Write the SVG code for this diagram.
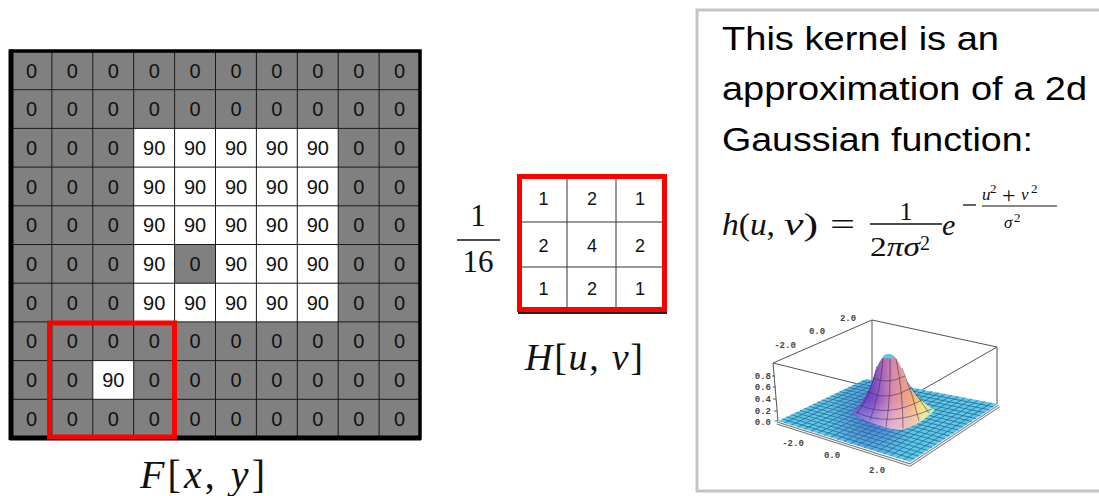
<svg xmlns="http://www.w3.org/2000/svg" width="1099" height="496" viewBox="0 0 1099 496">
<style>
.num{font-family:"Liberation Sans",Arial,sans-serif;font-size:20px;fill:#111;text-anchor:middle}
.knum{font-family:"Liberation Sans",Arial,sans-serif;font-size:18px;fill:#111;text-anchor:middle}
.gl{stroke:#1a1a1a;stroke-width:1;fill:none}
.serif{font-family:"Liberation Serif","Times New Roman",serif;fill:#111}
.it{font-style:italic}
.big{font-family:"Liberation Sans",Arial,sans-serif;font-size:34px;fill:#000}
.ax{font-family:"Liberation Mono","Courier New",monospace;font-size:9px;fill:#444;font-weight:bold}
.edge{stroke:#555;stroke-width:1;fill:none}
</style>
<defs>
<linearGradient id="peakG" x1="852" y1="0" x2="935" y2="0" gradientUnits="userSpaceOnUse">
<stop offset="0" stop-color="#3a38c8"/>
<stop offset="0.25" stop-color="#7440c4"/>
<stop offset="0.5" stop-color="#d888a8"/>
<stop offset="0.72" stop-color="#f0a870"/>
<stop offset="0.85" stop-color="#f2e070"/>
<stop offset="1" stop-color="#a8f0b8"/>
</linearGradient>
<linearGradient id="peakV" x1="0" y1="354" x2="0" y2="430" gradientUnits="userSpaceOnUse">
<stop offset="0" stop-color="#fff" stop-opacity="0"/>
<stop offset="0.6" stop-color="#fff" stop-opacity="0.05"/>
<stop offset="1" stop-color="#e8e0ff" stop-opacity="0.55"/>
</linearGradient>
<radialGradient id="shade" cx="872" cy="418" r="45" gradientUnits="userSpaceOnUse">
<stop offset="0" stop-color="#4040d0" stop-opacity="0.6"/>
<stop offset="1" stop-color="#4040d0" stop-opacity="0"/>
</radialGradient>
</defs>
<rect width="1099" height="496" fill="#fff"/>

<g id="image-grid">
<rect x="11" y="51" width="409" height="387" fill="#808080"/>
<rect x="133.7" y="128.4" width="204.5" height="193.5" fill="#fff"/>
<rect x="174.6" y="244.5" width="40.9" height="38.7" fill="#808080"/>
<rect x="92.8" y="360.6" width="40.9" height="38.7" fill="#fff"/>
<path class="gl" d="M51.9 51V438M92.8 51V438M133.7 51V438M174.6 51V438M215.5 51V438M256.4 51V438M297.3 51V438M338.2 51V438M379.1 51V438M11 89.7H420M11 128.4H420M11 167.1H420M11 205.8H420M11 244.5H420M11 283.2H420M11 321.9H420M11 360.6H420M11 399.3H420"/>
<rect x="11" y="51" width="409" height="387" fill="none" stroke="#000" stroke-width="3.5"/>
<path d="M11 49.5V440M9.5 438H421" stroke="#000" stroke-width="5" fill="none"/>
<g class="num">
<text x="31.5" y="77.5">0</text><text x="72.4" y="77.5">0</text><text x="113.3" y="77.5">0</text><text x="154.2" y="77.5">0</text><text x="195.1" y="77.5">0</text><text x="236" y="77.5">0</text><text x="276.9" y="77.5">0</text><text x="317.8" y="77.5">0</text><text x="358.7" y="77.5">0</text><text x="399.6" y="77.5">0</text>
<text x="31.5" y="116.2">0</text><text x="72.4" y="116.2">0</text><text x="113.3" y="116.2">0</text><text x="154.2" y="116.2">0</text><text x="195.1" y="116.2">0</text><text x="236" y="116.2">0</text><text x="276.9" y="116.2">0</text><text x="317.8" y="116.2">0</text><text x="358.7" y="116.2">0</text><text x="399.6" y="116.2">0</text>
<text x="31.5" y="154.9">0</text><text x="72.4" y="154.9">0</text><text x="113.3" y="154.9">0</text><text x="154.2" y="154.9">90</text><text x="195.1" y="154.9">90</text><text x="236" y="154.9">90</text><text x="276.9" y="154.9">90</text><text x="317.8" y="154.9">90</text><text x="358.7" y="154.9">0</text><text x="399.6" y="154.9">0</text>
<text x="31.5" y="193.6">0</text><text x="72.4" y="193.6">0</text><text x="113.3" y="193.6">0</text><text x="154.2" y="193.6">90</text><text x="195.1" y="193.6">90</text><text x="236" y="193.6">90</text><text x="276.9" y="193.6">90</text><text x="317.8" y="193.6">90</text><text x="358.7" y="193.6">0</text><text x="399.6" y="193.6">0</text>
<text x="31.5" y="232.3">0</text><text x="72.4" y="232.3">0</text><text x="113.3" y="232.3">0</text><text x="154.2" y="232.3">90</text><text x="195.1" y="232.3">90</text><text x="236" y="232.3">90</text><text x="276.9" y="232.3">90</text><text x="317.8" y="232.3">90</text><text x="358.7" y="232.3">0</text><text x="399.6" y="232.3">0</text>
<text x="31.5" y="271">0</text><text x="72.4" y="271">0</text><text x="113.3" y="271">0</text><text x="154.2" y="271">90</text><text x="195.1" y="271">0</text><text x="236" y="271">90</text><text x="276.9" y="271">90</text><text x="317.8" y="271">90</text><text x="358.7" y="271">0</text><text x="399.6" y="271">0</text>
<text x="31.5" y="309.7">0</text><text x="72.4" y="309.7">0</text><text x="113.3" y="309.7">0</text><text x="154.2" y="309.7">90</text><text x="195.1" y="309.7">90</text><text x="236" y="309.7">90</text><text x="276.9" y="309.7">90</text><text x="317.8" y="309.7">90</text><text x="358.7" y="309.7">0</text><text x="399.6" y="309.7">0</text>
<text x="31.5" y="348.4">0</text><text x="72.4" y="348.4">0</text><text x="113.3" y="348.4">0</text><text x="154.2" y="348.4">0</text><text x="195.1" y="348.4">0</text><text x="236" y="348.4">0</text><text x="276.9" y="348.4">0</text><text x="317.8" y="348.4">0</text><text x="358.7" y="348.4">0</text><text x="399.6" y="348.4">0</text>
<text x="31.5" y="387.1">0</text><text x="72.4" y="387.1">0</text><text x="113.3" y="387.1">90</text><text x="154.2" y="387.1">0</text><text x="195.1" y="387.1">0</text><text x="236" y="387.1">0</text><text x="276.9" y="387.1">0</text><text x="317.8" y="387.1">0</text><text x="358.7" y="387.1">0</text><text x="399.6" y="387.1">0</text>
<text x="31.5" y="425.8">0</text><text x="72.4" y="425.8">0</text><text x="113.3" y="425.8">0</text><text x="154.2" y="425.8">0</text><text x="195.1" y="425.8">0</text><text x="236" y="425.8">0</text><text x="276.9" y="425.8">0</text><text x="317.8" y="425.8">0</text><text x="358.7" y="425.8">0</text><text x="399.6" y="425.8">0</text>
</g>
<rect x="49.5" y="323" width="125" height="114" fill="none" stroke="#ff0000" stroke-width="5"/>
<text class="serif" x="140" y="488" font-size="40" textLength="125" lengthAdjust="spacing"><tspan class="it">F</tspan>[<tspan class="it">x</tspan>, <tspan class="it">y</tspan>]</text>
</g>

<g id="kernel">
<text class="serif" x="478" y="226" font-size="31" text-anchor="middle">1</text>
<line x1="457" y1="240" x2="500" y2="240" stroke="#111" stroke-width="1.5"/>
<text class="serif" x="478" y="272" font-size="31" text-anchor="middle">16</text>
<rect x="519.5" y="176.5" width="145" height="133" fill="#fff"/>
<path d="M567 177V309M616 177V309M520 222H664M520 267H664" stroke="#333" stroke-width="1" fill="none"/>
<line x1="518" y1="313" x2="667" y2="313" stroke="#222" stroke-width="2"/>
<rect x="519.5" y="176.5" width="145" height="133" fill="none" stroke="#ff0000" stroke-width="5"/>
<g class="knum">
<text x="543.5" y="204.5">1</text><text x="592" y="204.5">2</text><text x="640" y="204.5">1</text>
<text x="543.5" y="251.5">2</text><text x="592" y="251.5">4</text><text x="640" y="251.5">2</text>
<text x="543.5" y="294.5">1</text><text x="592" y="294.5">2</text><text x="640" y="294.5">1</text>
</g>
<text class="serif" x="525" y="370" font-size="38" textLength="118" lengthAdjust="spacing"><tspan class="it">H</tspan>[<tspan class="it">u</tspan>, <tspan class="it">v</tspan>]</text>
</g>

<g id="gaussian-panel">
<rect x="697" y="10" width="430" height="481" fill="#fff" stroke="#c4c4c4" stroke-width="3"/>
<text class="big" x="722" y="50" textLength="277" lengthAdjust="spacingAndGlyphs">This kernel is an</text>
<text class="big" x="722" y="100" textLength="365" lengthAdjust="spacingAndGlyphs">approximation of a 2d</text>
<text class="big" x="722" y="151" textLength="311" lengthAdjust="spacingAndGlyphs">Gaussian function:</text>

<g id="formula">
<text class="serif" x="722" y="235" font-size="31" textLength="53" lengthAdjust="spacingAndGlyphs"><tspan class="it">h</tspan>(<tspan class="it">u</tspan>,</text>
<text class="serif" x="784" y="235" font-size="31" textLength="34" lengthAdjust="spacingAndGlyphs"><tspan class="it">v</tspan>)</text>
<text class="serif" x="830" y="235" font-size="31" textLength="25" lengthAdjust="spacingAndGlyphs">=</text>
<text class="serif" x="906" y="220" font-size="26" text-anchor="middle">1</text>
<line x1="870" y1="224" x2="942" y2="224" stroke="#111" stroke-width="1.3"/>
<text class="serif" x="870" y="256" font-size="27" textLength="50" lengthAdjust="spacingAndGlyphs">2<tspan class="it">πσ</tspan></text>
<text class="serif" x="920" y="250" font-size="20">2</text>
<text class="serif it" x="942" y="235" font-size="30">e</text>
<line x1="963" y1="205" x2="976" y2="205" stroke="#111" stroke-width="1.3"/>
<text class="serif it" x="982" y="200" font-size="17">u</text>
<text class="serif" x="990" y="193" font-size="13">2</text>
<text class="serif" x="1002" y="203" font-size="24">+</text>
<text class="serif it" x="1021" y="200" font-size="17">v</text>
<text class="serif" x="1031" y="193" font-size="13">2</text>
<line x1="982" y1="206" x2="1057" y2="206" stroke="#111" stroke-width="1.1"/>
<text class="serif it" x="1004" y="228" font-size="17">σ</text>
<text class="serif" x="1014" y="222" font-size="13">2</text>
</g>

<g id="plot">
<path class="edge" d="M773 363L872 320L997 347M872 320V382M773 363L778 421M997 347V404M773 363L858 384M997 347L922 390"/>
<path class="edge" d="M775 376h-3M776 387h-3M776 399h-3M777 411h-3M778 421h-3"/>
<path d="M778 421L866 379L998 404L910 462Z" fill="#5cc8ee"/>
<path d="M778 421L866 379L998 404L910 462Z" fill="url(#shade)"/>
<path stroke="#2c6a88" stroke-width="0.8" fill="none" d="M782.4 418.9L914.4 459.1M786.8 416.8L918.8 456.2M791.2 414.7L923.2 453.3M795.6 412.6L927.6 450.4M800 410.5L932 447.5M804.4 408.4L936.4 444.6M808.8 406.3L940.8 441.7M813.2 404.2L945.2 438.8M817.6 402.1L949.6 435.9M822 400L954 433M826.4 397.9L958.4 430.1M830.8 395.8L962.8 427.2M835.2 393.7L967.2 424.3M839.6 391.6L971.6 421.4M844 389.5L976 418.5M848.4 387.4L980.4 415.6M852.8 385.3L984.8 412.7M857.2 383.2L989.2 409.8M861.6 381.1L993.6 406.9M784.6 423L872.6 380.3M791.2 425.1L879.2 381.5M797.8 427.2L885.8 382.8M804.4 429.2L892.4 384M811 431.3L899 385.3M817.6 433.3L905.6 386.5M824.2 435.4L912.2 387.8M830.8 437.4L918.8 389M837.4 439.5L925.4 390.3M844 441.5L932 391.5M850.6 443.6L938.6 392.8M857.2 445.6L945.2 394M863.8 447.7L951.8 395.3M870.4 449.7L958.4 396.5M877 451.8L965 397.8M883.6 453.8L971.6 399M890.2 455.9L978.2 400.3M896.8 457.9L984.8 401.5M903.4 460L991.4 402.8"/>
<path d="M852 413C862 404 868 394 874 376C878 363 882 356 888 354C895 354 899 361 903 373C909 389 920 402 935 410C925 420 912 428 900 430C880 428 864 420 852 413Z" fill="url(#peakG)"/>
<path d="M852 413C862 404 868 394 874 376C878 363 882 356 888 354C895 354 899 361 903 373C909 389 920 402 935 410C925 420 912 428 900 430C880 428 864 420 852 413Z" fill="url(#peakV)"/>
<path stroke="#3a2a50" stroke-width="0.7" fill="none" opacity="0.8" d="M877 366Q870 398 857 413M883 358Q880 395 870 420M890 355Q891 395 886 427M896 359Q903 392 903 428M902 368Q913 394 919 421M908 383Q920 400 929 413M873 378Q888 385 905 376M868 392Q888 402 911 388M860 405Q888 418 922 400M856 412Q888 428 932 409"/>
<path d="M883 356Q888 352 894 356L891 359Q887 357 884 359Z" fill="#5cc8ee"/>
<path d="M777 423L910 465L999 406" fill="none" stroke="#777" stroke-width="3"/>
<path d="M777 423L910 465L999 406" fill="none" stroke="#f4f4f4" stroke-width="1.2"/>
<g class="ax">
<text x="785" y="348" text-anchor="middle">-2.0</text>
<text x="817" y="334" text-anchor="middle">0.0</text>
<text x="848" y="321" text-anchor="middle">2.0</text>
<text x="771" y="379" text-anchor="end">0.8</text>
<text x="771" y="390" text-anchor="end">0.6</text>
<text x="771" y="402" text-anchor="end">0.4</text>
<text x="771" y="414" text-anchor="end">0.2</text>
<text x="771" y="425" text-anchor="end">0.0</text>
<text x="793" y="446" text-anchor="middle">-2.0</text>
<text x="832" y="458" text-anchor="middle">0.0</text>
<text x="877" y="473" text-anchor="middle">2.0</text>
</g>
</g>
</g>
</svg>
